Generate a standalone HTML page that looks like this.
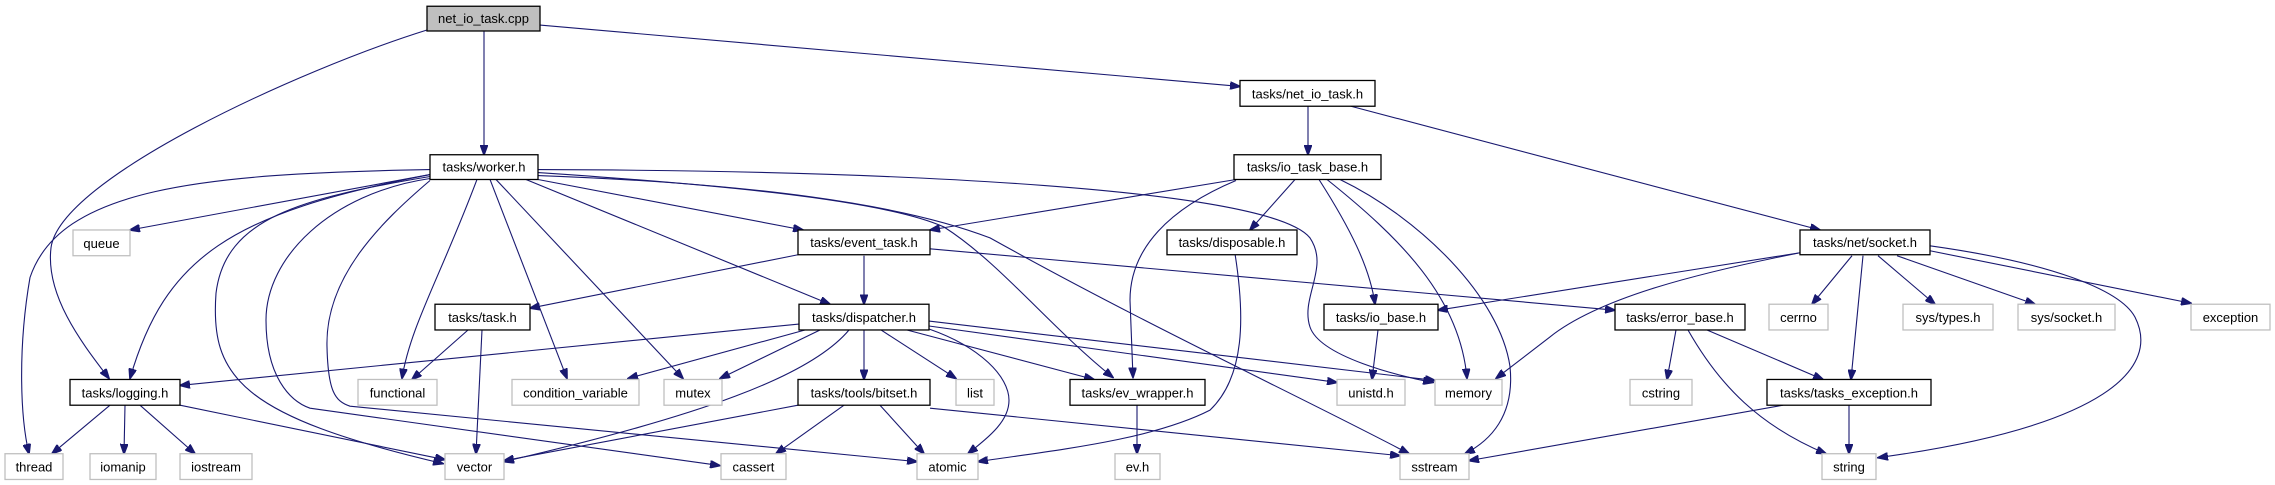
<!DOCTYPE html>
<html><head><meta charset="utf-8"><style>
html,body{margin:0;padding:0;background:#fff;}
svg{display:block;}
text{font-family:"Liberation Sans",Arial,sans-serif;font-size:13px;fill:#000;}
</style></head><body>
<svg width="2275" height="485" viewBox="0 0 2275 485" xmlns="http://www.w3.org/2000/svg">
<defs>
<marker id="a" markerWidth="11" markerHeight="8" refX="10" refY="4" orient="auto" markerUnits="userSpaceOnUse">
<path d="M0,0 L11,4 L0,8 z" fill="#191970" stroke="#191970"/>
</marker>
</defs>
<g transform="matrix(1,0,0,0.99,0,0.3)">
<g fill="none" stroke="#191970" stroke-width="1.1" marker-end="url(#a)">
<path d="M484,31 L484,156"/>
<path d="M427,30 C300,70 60,180 51,250 C45,300 85,350 109,382"/>
<path d="M540,25 L1240,87"/>
<path d="M1308,107 L1308,156"/>
<path d="M1351,107 L1820,232"/>
<path d="M430,176 L130,232"/>
<path d="M430,171 C200,175 60,190 30,280 C18,350 20,420 29,458"/>
<path d="M430,176 C230,215 165,260 130,382"/>
<path d="M430,178 C300,200 225,220 216,296 C210,380 240,420 443,468"/>
<path d="M430,180 C330,195 266,260 266,323 C266,380 290,405 310,412 L720,470"/>
<path d="M430,182 C380,225 325,280 327,350 C328,395 335,405 350,410 L917,466"/>
<path d="M477,181 C440,280 410,330 402,382"/>
<path d="M490,181 L567,382"/>
<path d="M496,181 L683,382"/>
<path d="M538,181 L803,232"/>
<path d="M526,181 L830,307"/>
<path d="M538,174 C700,185 880,200 944,229 C1000,265 1050,330 1113,381"/>
<path d="M538,177 C750,185 900,205 990,240 C1150,330 1300,400 1409,458"/>
<path d="M538,171 C900,172 1270,190 1310,240 C1330,270 1300,300 1310,330 C1320,360 1400,380 1433,386"/>
<path d="M1236,181 L930,232"/>
<path d="M1236,182 C1170,210 1130,250 1130,303 L1133,381"/>
<path d="M1295,181 L1250,232"/>
<path d="M1319,181 C1350,230 1370,270 1375,307"/>
<path d="M1327,181 C1400,240 1460,300 1467,382"/>
<path d="M1340,181 C1420,220 1500,300 1510,370 C1515,420 1490,445 1465,458"/>
<path d="M1235,256 C1245,320 1245,380 1210,414 C1150,445 1050,455 978,466"/>
<path d="M864,258 L864,307"/>
<path d="M798,257 L530,311"/>
<path d="M930,251 L1615,313"/>
<path d="M799,327 L180,389"/>
<path d="M805,333 L628,382"/>
<path d="M820,333 L720,382"/>
<path d="M849,333 C810,380 700,420 504,466"/>
<path d="M798,409 L504,465"/>
<path d="M864,333 L864,383"/>
<path d="M881,333 L956,382"/>
<path d="M929,332 C980,350 1009,380 1009,404 C1009,425 990,440 968,458"/>
<path d="M907,333 L1094,383"/>
<path d="M929,329 L1337,386"/>
<path d="M929,324 L1435,384"/>
<path d="M844,409 L776,458"/>
<path d="M880,409 L924,458"/>
<path d="M930,412 L1400,460"/>
<path d="M1137,409 L1137,458"/>
<path d="M1378,333 L1372,383"/>
<path d="M110,409 L52,458"/>
<path d="M125,409 L124,458"/>
<path d="M140,409 L195,458"/>
<path d="M180,409 L445,464"/>
<path d="M468,333 L412,383"/>
<path d="M482,333 L476,458"/>
<path d="M1800,255 L1438,313"/>
<path d="M1800,255 C1700,275 1600,300 1550,340 L1496,382"/>
<path d="M1852,258 L1812,307"/>
<path d="M1863,258 L1851,383"/>
<path d="M1878,258 L1935,307"/>
<path d="M1897,258 L2035,307"/>
<path d="M1930,253 L2191,306"/>
<path d="M1930,248 C2050,265 2120,292 2135,320 C2160,370 2110,430 1878,462"/>
<path d="M1676,333 L1667,383"/>
<path d="M1688,333 C1720,390 1760,430 1826,458"/>
<path d="M1707,333 L1823,383"/>
<path d="M1849,409 L1849,458"/>
<path d="M1783,409 L1469,465"/>
</g>
<g stroke-width="1.3">
<rect x="427" y="6" width="113" height="25" fill="#bfbfbf" stroke="#000"/>
<g fill="#fff" stroke="#000">
<rect x="430" y="156" width="108" height="25"/>
<rect x="1240" y="81" width="135" height="26"/>
<rect x="1234" y="156" width="147" height="25"/>
<rect x="798" y="232" width="132" height="25"/>
<rect x="1167" y="232" width="130" height="25"/>
<rect x="1800" y="232" width="130" height="25"/>
<rect x="435" y="307" width="95" height="26"/>
<rect x="799" y="307" width="130" height="26"/>
<rect x="1324" y="307" width="114" height="26"/>
<rect x="1615" y="307" width="130" height="26"/>
<rect x="70" y="383" width="110" height="26"/>
<rect x="798" y="383" width="132" height="26"/>
<rect x="1070" y="383" width="135" height="26"/>
<rect x="1767" y="383" width="164" height="26"/>
</g>
<g fill="#fff" stroke="#bfbfbf">
<rect x="73" y="232" width="57" height="26"/>
<rect x="1769" y="307" width="59" height="26"/>
<rect x="1903" y="307" width="90" height="26"/>
<rect x="2018" y="307" width="97" height="26"/>
<rect x="2191" y="307" width="79" height="26"/>
<rect x="358" y="383" width="79" height="26"/>
<rect x="512" y="383" width="127" height="26"/>
<rect x="664" y="383" width="58" height="26"/>
<rect x="956" y="383" width="38" height="26"/>
<rect x="1337" y="383" width="68" height="26"/>
<rect x="1435" y="383" width="67" height="26"/>
<rect x="1630" y="383" width="62" height="26"/>
<rect x="5" y="458" width="58" height="26"/>
<rect x="90" y="458" width="66" height="26"/>
<rect x="180" y="458" width="72" height="26"/>
<rect x="445" y="458" width="59" height="26"/>
<rect x="721" y="458" width="65" height="26"/>
<rect x="917" y="458" width="61" height="26"/>
<rect x="1115" y="458" width="45" height="26"/>
<rect x="1400" y="458" width="69" height="26"/>
<rect x="1822" y="458" width="54" height="26"/>
</g>
</g>
<g text-anchor="middle">
<text x="483.5" y="23">net_io_task.cpp</text>
<text x="484" y="173">tasks/worker.h</text>
<text x="1307.5" y="99">tasks/net_io_task.h</text>
<text x="1307.5" y="173">tasks/io_task_base.h</text>
<text x="864" y="249">tasks/event_task.h</text>
<text x="1232" y="249">tasks/disposable.h</text>
<text x="1865" y="249">tasks/net/socket.h</text>
<text x="482.5" y="325">tasks/task.h</text>
<text x="864" y="325">tasks/dispatcher.h</text>
<text x="1381" y="325">tasks/io_base.h</text>
<text x="1680" y="325">tasks/error_base.h</text>
<text x="125" y="401">tasks/logging.h</text>
<text x="864" y="401">tasks/tools/bitset.h</text>
<text x="1137.5" y="401">tasks/ev_wrapper.h</text>
<text x="1849" y="401">tasks/tasks_exception.h</text>
<text x="101.5" y="250">queue</text>
<text x="1798.5" y="325">cerrno</text>
<text x="1948" y="325">sys/types.h</text>
<text x="2066.5" y="325">sys/socket.h</text>
<text x="2230.5" y="325">exception</text>
<text x="397.5" y="401">functional</text>
<text x="575.5" y="401">condition_variable</text>
<text x="693" y="401">mutex</text>
<text x="975" y="401">list</text>
<text x="1371" y="401">unistd.h</text>
<text x="1468.5" y="401">memory</text>
<text x="1661" y="401">cstring</text>
<text x="34" y="476">thread</text>
<text x="123" y="476">iomanip</text>
<text x="216" y="476">iostream</text>
<text x="474.5" y="476">vector</text>
<text x="753.5" y="476">cassert</text>
<text x="947.5" y="476">atomic</text>
<text x="1137.5" y="476">ev.h</text>
<text x="1434.5" y="476">sstream</text>
<text x="1849" y="476">string</text>
</g>
</g>
</svg>
</body></html>
